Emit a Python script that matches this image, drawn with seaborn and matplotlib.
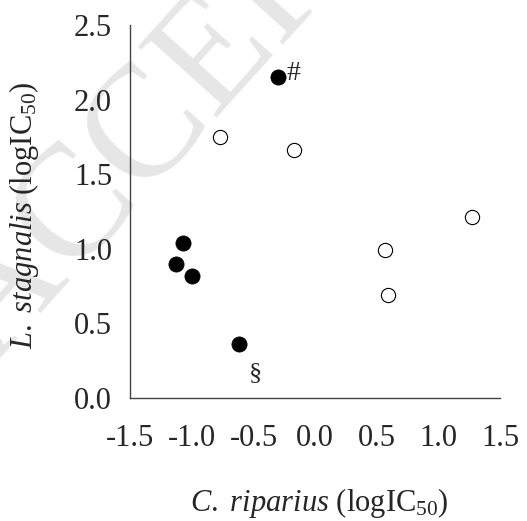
import pandas as pd
import matplotlib
matplotlib.use("Agg")
import matplotlib.pyplot as plt
import seaborn as sns

# values
filled_x = [-0.30, -1.07, -1.13, -1.00, -0.62]
filled_y = [2.15, 1.04, 0.90, 0.82, 0.36]
open_x = [-0.77, -0.17, 1.27, 0.57, 0.59]
open_y = [1.75, 1.66, 1.21, 0.99, 0.69]
x_ticks = [-1.5, -1.0, -0.5, 0.0, 0.5, 1.0, 1.5]
y_ticks = [0.0, 0.5, 1.0, 1.5, 2.0, 2.5]

df = pd.DataFrame({
    "x": filled_x + open_x,
    "y": filled_y + open_y,
    "kind": ["filled"] * len(filled_x) + ["open"] * len(open_x),
})

sns.set_style("white")
plt.rcParams["font.family"] = ["Liberation Serif", "DejaVu Serif"]
plt.rcParams["mathtext.fontset"] = "custom"
plt.rcParams["mathtext.rm"] = "Liberation Serif"
plt.rcParams["mathtext.it"] = "Liberation Serif:italic"

fig = plt.figure(figsize=(5.27, 5.21), dpi=100)
ax = fig.add_axes([0.247, 0.236, 0.702, 0.716])
ax.set_facecolor("none")

# faint watermark behind everything
fig.text(-0.01, 0.30, "ACCEPTED MANUSCRIPT", fontsize=115, color="#e6e6e6",
         rotation=48, ha="left", va="baseline", rotation_mode="anchor", zorder=-1)

sns.scatterplot(data=df[df.kind == "filled"], x="x", y="y", ax=ax, s=120,
                color="black", edgecolor="black", linewidth=0.5, zorder=3)
sns.scatterplot(data=df[df.kind == "open"], x="x", y="y", ax=ax, s=105,
                facecolor="white", edgecolor="black", linewidth=0.8, zorder=3)

ax.text(-0.23, 2.13, "#", fontsize=20, ha="left", va="baseline")
ax.text(-0.48, 0.17, "§", fontsize=19, ha="center", va="center")

ax.set_xlim(-1.5, 1.5)
ax.set_ylim(0, 2.5)
ax.set_xticks(x_ticks)
ax.set_yticks(y_ticks)
ax.set_xticklabels([f"{v:.1f}" for v in x_ticks])
ax.set_yticklabels([f"{v:.1f}" for v in y_ticks])
ax.tick_params(axis="both", direction="out", length=3, width=1, color="#444444",
               labelsize=22)
ax.tick_params(axis="x", pad=16)
ax.tick_params(axis="y", pad=10)

for side in ["top", "right"]:
    ax.spines[side].set_visible(False)
for side in ["left", "bottom"]:
    ax.spines[side].set_color("#444444")
    ax.spines[side].set_linewidth(1)

ax.set_xlabel(r"$\mathit{C.}$ $\mathit{riparius}$ (logIC$_{50}$)", fontsize=22)
ax.set_ylabel(r"$\mathit{L.}$ $\mathit{stagnalis}$ (logIC$_{50}$)", fontsize=22)
ax.xaxis.set_label_coords(0.51, -0.235)
ax.yaxis.set_label_coords(-0.24, 0.49)

fig.savefig("out.png", dpi=100)
